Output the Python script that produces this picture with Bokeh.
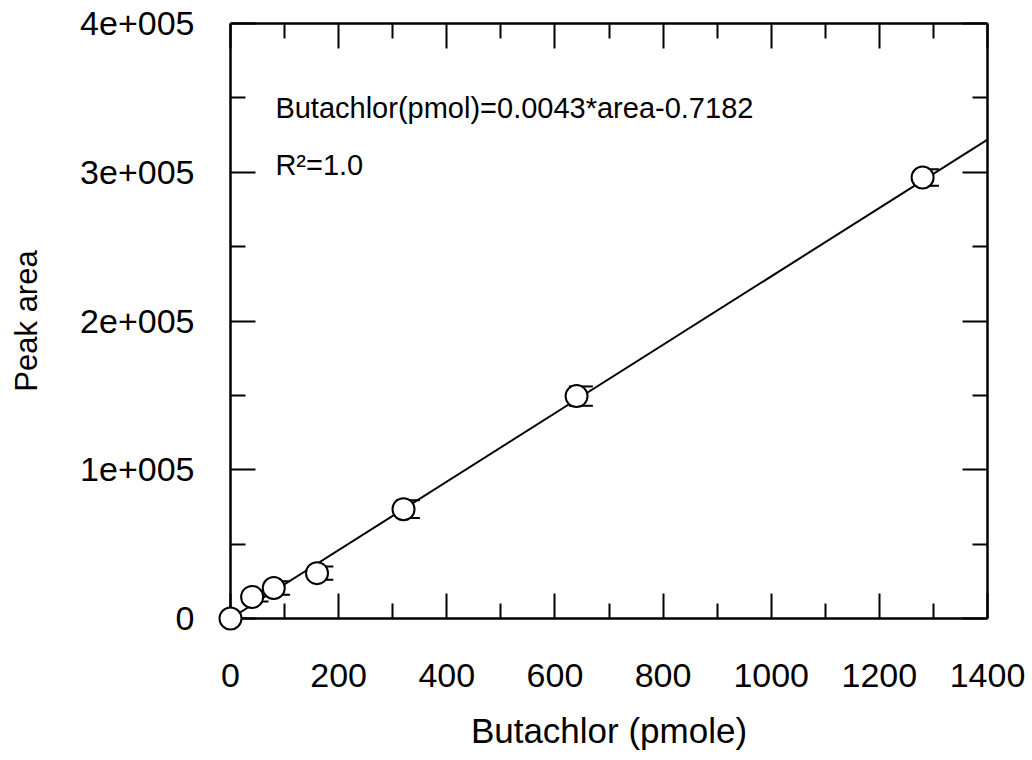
from bokeh.plotting import figure
from bokeh.models import (LinearAxis, FixedTicker, Whisker, ColumnDataSource,
                          Label, TeeHead, Range1d, CustomLabelingPolicy)
from bokeh.transform import dodge
from bokeh.embed import file_html
from bokeh.resources import INLINE

# ---- data ----
amount_pmole = [0, 40, 80, 160, 320, 640, 1280]
peak_area = [0, 14500, 20500, 30500, 73500, 149500, 296500]
area_err = [0, 3000, 4500, 4500, 6000, 6500, 5500]

fit_x = [0, 1400]
fit_y = [0, 322000]

x_ticks = [0, 200, 400, 600, 800, 1000, 1200, 1400]
x_minor = [100, 300, 500, 700, 900, 1100, 1300]
y_ticks = [0, 100000, 200000, 300000, 400000]
y_minor = [50000, 150000, 250000, 350000]
y_tick_labels = ["0", "1e+005", "2e+005", "3e+005", "4e+005"]

equation_text = "Butachlor(pmol)=0.0043*area-0.7182"
r2_text = "R\u00b2=1.0"
x_title = "Butachlor (pmole)"
y_title = "Peak area"

FONT = "Liberation Sans"

src = ColumnDataSource(data=dict(
    x=amount_pmole, y=peak_area,
    upper=[v + e for v, e in zip(peak_area, area_err)],
    lower=[v - e for v, e in zip(peak_area, area_err)],
))

p = figure(width=1032, height=760,
           x_range=Range1d(0, 1400), y_range=Range1d(0, 400000),
           output_backend="svg", toolbar_location=None,
           min_border_left=230, min_border_right=45,
           min_border_top=23, min_border_bottom=142)
p.grid.visible = False
p.outline_line_color = None
p.background_fill_color = "white"
p.border_fill_color = "white"

hide_all = CustomLabelingPolicy(code="""
try { for (let i = 0; i < indices.size; i++) indices.unset(i); } catch (e) {}
return indices
""")


def style_axis(ax, ticks, minor, show_labels):
    ax.ticker = FixedTicker(ticks=ticks, minor_ticks=minor)
    ax.axis_line_width = 2.5
    ax.axis_line_color = "black"
    ax.major_tick_in = 25
    ax.major_tick_out = 0
    ax.minor_tick_in = 15
    ax.minor_tick_out = 0
    ax.major_tick_line_width = 2
    ax.minor_tick_line_width = 2
    ax.major_tick_line_color = "black"
    ax.minor_tick_line_color = "black"
    if show_labels:
        ax.major_label_text_font = FONT
        ax.major_label_text_font_size = "34px"
        ax.major_label_text_color = "black"
    else:
        ax.major_label_text_font_size = "0px"
        ax.major_label_standoff = 0
        ax.major_label_policy = hide_all


xa = p.xaxis[0]
style_axis(xa, x_ticks, x_minor, True)
xa.major_label_standoff = 45
xa.axis_label = x_title
xa.axis_label_text_font = FONT
xa.axis_label_text_font_size = "35px"
xa.axis_label_text_font_style = "normal"
xa.axis_label_text_color = "black"
xa.axis_label_standoff = 21

ya = p.yaxis[0]
style_axis(ya, y_ticks, y_minor, True)
ya.major_label_overrides = {t: s for t, s in zip(y_ticks, y_tick_labels)}
ya.major_label_standoff = 36
ya.axis_label = y_title
ya.axis_label_text_font = FONT
ya.axis_label_text_font_size = "31px"
ya.axis_label_text_font_style = "normal"
ya.axis_label_text_color = "black"
ya.axis_label_standoff = 33

top = LinearAxis()
style_axis(top, x_ticks, x_minor, False)
p.add_layout(top, "above")
right = LinearAxis()
style_axis(right, y_ticks, y_minor, False)
p.add_layout(right, "right")

# fitted line
p.line(fit_x, fit_y, line_color="black", line_width=2)

# error bars
wh = Whisker(source=src, base=dodge("x", 8, range=p.x_range),
             upper="upper", lower="lower", dimension="height",
             line_color="black", line_width=2,
             upper_head=TeeHead(size=24, line_width=2, line_color="black"),
             lower_head=TeeHead(size=24, line_width=2, line_color="black"))
p.add_layout(wh)

# points
p.scatter(x="x", y="y", source=src, marker="circle", size=22,
          fill_color="white", line_color="black", line_width=2,
          level="overlay")

p.add_layout(Label(x=83, y=343500, text=equation_text, text_font=FONT,
                   text_font_size="29px", text_color="black",
                   text_baseline="alphabetic"))
p.add_layout(Label(x=83, y=305000, text=r2_text, text_font=FONT,
                   text_font_size="29px", text_color="black",
                   text_baseline="alphabetic"))

open("out.html", "w").write(file_html(p, INLINE))
